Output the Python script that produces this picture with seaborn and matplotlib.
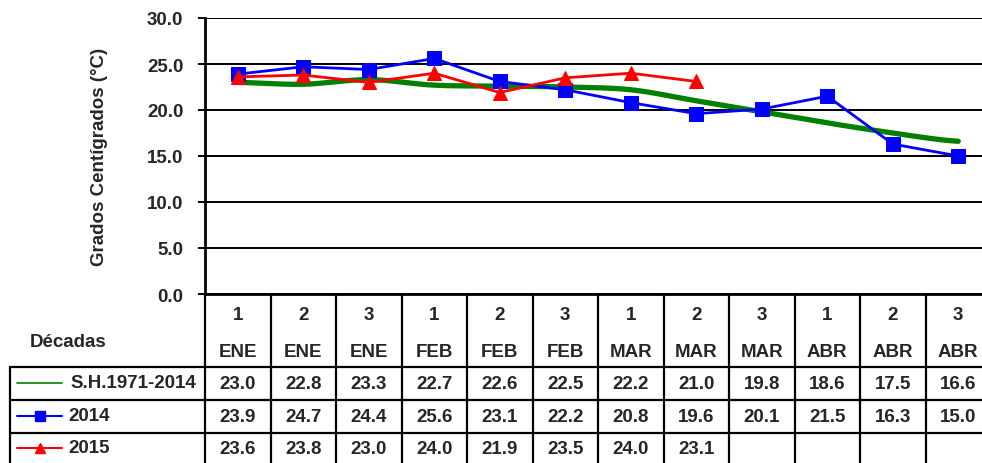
import numpy as np
import pandas as pd
import matplotlib
matplotlib.use("Agg")
import matplotlib.pyplot as plt
import matplotlib.transforms as mtransforms
from matplotlib.lines import Line2D
import seaborn as sns

# datos
decadas = ["1", "2", "3", "1", "2", "3", "1", "2", "3", "1", "2", "3"]
meses = ["ENE", "ENE", "ENE", "FEB", "FEB", "FEB", "MAR", "MAR", "MAR", "ABR", "ABR", "ABR"]
serie_hist = [23.0, 22.8, 23.3, 22.7, 22.6, 22.5, 22.2, 21.0, 19.8, 18.6, 17.5, 16.6]
serie_2014 = [23.9, 24.7, 24.4, 25.6, 23.1, 22.2, 20.8, 19.6, 20.1, 21.5, 16.3, 15.0]
serie_2015 = [23.6, 23.8, 23.0, 24.0, 21.9, 23.5, 24.0, 23.1]
nombres = ["S.H.1971-2014", "2014", "2015"]

sns.set_style("white")
plt.rcParams['font.family'] = ['Liberation Sans', 'DejaVu Sans']
plt.rcParams['font.weight'] = 'bold'
FS = 13.5


def suavizar(y, n=24):
    # curva suavizada tipo Excel (Catmull-Rom)
    y = np.asarray(y, dtype=float)
    xs, ys = [], []
    for i in range(len(y) - 1):
        p0 = y[i - 1] if i > 0 else y[i]
        p1, p2 = y[i], y[i + 1]
        p3 = y[i + 2] if i + 2 < len(y) else y[i + 1]
        t = np.linspace(0, 1, n)
        yy = 0.5 * ((2 * p1) + (-p0 + p2) * t + (2 * p0 - 5 * p1 + 4 * p2 - p3) * t ** 2
                    + (-p0 + 3 * p1 - 3 * p2 + p3) * t ** 3)
        xs.extend(i + t)
        ys.extend(yy)
    return np.array(xs), np.array(ys)


fig = plt.figure(figsize=(9.82, 4.64), dpi=100)
ax = fig.add_axes([205 / 982, (464 - 295) / 464, (991 - 205) / 982, (295 - 19) / 464])

xh, yh = suavizar(serie_hist)
df_h = pd.DataFrame({"x": xh, "y": yh})
sns.lineplot(data=df_h, x="x", y="y", ax=ax, color="#008000", lw=3.8, sort=False,
             solid_capstyle="round", zorder=3)

df14 = pd.DataFrame({"x": range(len(serie_2014)), "y": serie_2014})
sns.lineplot(data=df14, x="x", y="y", ax=ax, color="#0000ff", lw=2, marker="s",
             markersize=9.5, markeredgecolor="#0000ff", zorder=4)

df15 = pd.DataFrame({"x": range(len(serie_2015)), "y": serie_2015})
sns.lineplot(data=df15, x="x", y="y", ax=ax, color="#ff0000", lw=2, marker="^",
             markersize=9.5, markeredgecolor="#ff0000", zorder=5)

ax.set_xlim(-0.5, 11.5)
ax.set_ylim(0, 30)
ax.set_yticks(np.arange(0, 31, 5))
ax.set_yticklabels([f"{v:.1f}" for v in np.arange(0, 31, 5)], fontsize=FS, fontweight="bold")
ax.set_xticks([])
ax.set_xlabel("")
ax.set_ylabel("Grados Centígrados (°C)", fontsize=FS, fontweight="bold", labelpad=28)
ax.yaxis.grid(True, color="black", lw=1.4)
ax.set_axisbelow(True)
ax.tick_params(axis="y", direction="out", length=5, width=1.4, color="black", pad=10.5, left=True)
for s in ["top", "right"]:
    ax.spines[s].set_visible(False)
ax.spines["left"].set_color("black")
ax.spines["left"].set_linewidth(2)
ax.spines["bottom"].set_color("black")
ax.spines["bottom"].set_linewidth(2)

# tabla de datos
tab = fig.add_axes([0, 0, 1, 1], zorder=-1)
tab.set_xlim(0, 982)
tab.set_ylim(464, 0)
tab.axis("off")
tr = mtransforms.blended_transform_factory(ax.transData, tab.transData)

n = len(decadas)
for i in range(n + 1):
    tab.plot([i - 0.5, i - 0.5], [295, 470], color="black", lw=1.6, transform=tr, clip_on=False)
for yy in [368, 401, 434]:
    tab.plot([10, 991], [yy, yy], color="black", lw=1.6, clip_on=False)
tab.plot([10, 10], [368, 470], color="black", lw=1.6, clip_on=False)

for i in range(n):
    tab.text(i, 316, decadas[i], ha="center", va="center", fontsize=FS, fontweight="bold", transform=tr)
    tab.text(i, 353, meses[i], ha="center", va="center", fontsize=FS, fontweight="bold", transform=tr)

filas = [serie_hist, serie_2014, serie_2015]
centros = [385, 418, 450]
for vals, yc in zip(filas, centros):
    for i, v in enumerate(vals):
        tab.text(i, yc, f"{v:.1f}", ha="center", va="center", fontsize=FS, fontweight="bold", transform=tr)

tab.text(30, 343, "Décadas", ha="left", va="center", fontsize=FS, fontweight="bold")

# leyenda dentro de la tabla
colores = ["#008000", "#0000ff", "#ff0000"]
marcas = [None, "s", "^"]
for nombre, col, m, yc, xt in zip(nombres, colores, marcas, centros, [70, 68, 68]):
    tab.add_line(Line2D([17, 62], [yc - 1, yc - 1], color=col, lw=1.2 if m is None else 1.5))
    if m is not None:
        tab.add_line(Line2D([40], [yc - 1], color=col, marker=m, markersize=7.5, lw=0))
    tab.text(xt, yc - 1, nombre, ha="left", va="center", fontsize=FS, fontweight="bold")

fig.savefig("out.png", dpi=100)
